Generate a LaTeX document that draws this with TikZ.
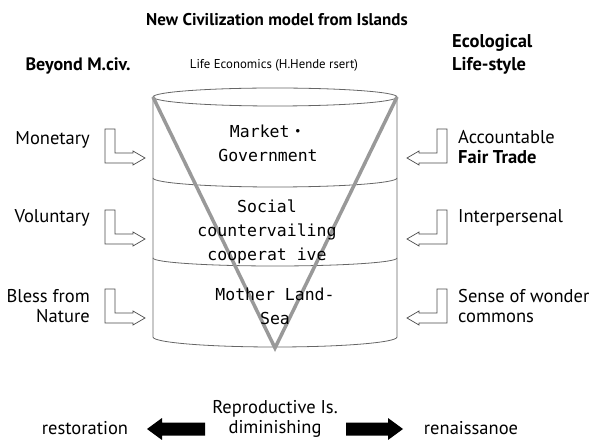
\documentclass[tikz,border=0pt]{standalone}
\usepackage{fontspec}
\setmainfont{PT Sans}
\newfontfamily\gothic{DejaVu Sans Mono}
\newfontfamily\jpfont{Noto Sans CJK JP}

\begin{document}
\begin{tikzpicture}[x=1pt, y=1pt,
  lbl/.style={font=\fontsize{18.5}{19.5}\selectfont, inner sep=0pt},
  sect/.style={font=\gothic\fontsize{16.5}{24}\selectfont, align=center, inner sep=0pt},
  cyl/.style={draw=black!60, line width=0.8pt},
  vline/.style={draw=black!40, line width=3.5pt},
  bentarr/.pic={
    \draw[black!70, line width=0.7pt, fill=white] (0,0) -- (-12,7) -- (-12,5) -- (-30,5) -- (-30,29)
      -- (-40,29) -- (-40,-5) -- (-12,-5) -- (-12,-7) -- cycle;
  }]
  \useasboundingbox (0,0) rectangle (593,439);

  % header
  \node[font=\bfseries\fontsize{17}{19}\selectfont, inner sep=0pt] (title) at (277,419) {New Civilization model from Islands};
  \node[lbl, font=\bfseries\fontsize{18}{19}\selectfont] (beyond) at (78,373) {Beyond M.civ.};
  \node[font=\fontsize{12.8}{14}\selectfont, inner sep=0pt] (lifeeco) at (274,374) {Life Economics (H.Hende rsert)};
  \node[lbl, font=\bfseries\fontsize{18.5}{23}\selectfont, align=left, anchor=west] (ecolife) at (452,385) {Ecological\\Life-style};

  % cylinder
  \draw[cyl] (275,342) ellipse[x radius=122, y radius=9];
  \draw[cyl] (153,342) -- (153,261) arc[start angle=180, end angle=360, x radius=122, y radius=9] -- (397,342);
  \draw[cyl] (153,261) -- (153,181) arc[start angle=180, end angle=360, x radius=122, y radius=8] -- (397,261);
  \draw[cyl] (153,181) -- (153,102) arc[start angle=180, end angle=360, x radius=122, y radius=10] -- (397,181);

  \coordinate (vl) at (153,342);
  \coordinate (vr) at (397,342);
  \coordinate (vb) at (275,91);
  \draw[vline] (vl) -- (vb) -- (vr);

  \node[sect] (market) at (268,296) {Market{\jpfont ・}\\Government};
  \node[sect] (social) at (267,207) {Social\\countervailing\\cooperat ive};
  \node[sect] (mother) at (275,133) {Mother Land-\\Sea};

  % side labels
  \node[lbl, anchor=east] (monetary) at (90,299) {Monetary};
  \node[lbl, anchor=east] (voluntary) at (90,221) {Voluntary};
  \node[lbl, anchor=east, align=right] (bless) at (90,133) {Bless from\\Nature};
  \node[lbl, anchor=west, align=left] (account) at (458,292) {Accountable\\\textbf{Fair Trade}};
  \node[lbl, anchor=west] (inter) at (458,221) {Interpersenal};
  \node[lbl, anchor=west, align=left] (sense) at (458,133) {Sense of wonder\\commons};

  \foreach \y in {281,200,121} {
    \pic at (145,\y) {bentarr};
    \pic[xscale=-1] at (407,\y) {bentarr};
  }

  % bottom
  \node[lbl, align=center] (repro) at (275,20) {Reproductive Is.\\diminishing};
  \node[lbl] (restor) at (85,11) {restoration};
  \node[lbl] (renais) at (471,11) {renaissanoe};
  \fill (147,10) -- (162,21) -- (162,16.5) -- (205,16.5) -- (205,3.5) -- (162,3.5) -- (162,-1) -- cycle;
  \fill (403,10) -- (388,21) -- (388,16.5) -- (346,16.5) -- (346,3.5) -- (388,3.5) -- (388,-1) -- cycle;
\end{tikzpicture}
\end{document}
